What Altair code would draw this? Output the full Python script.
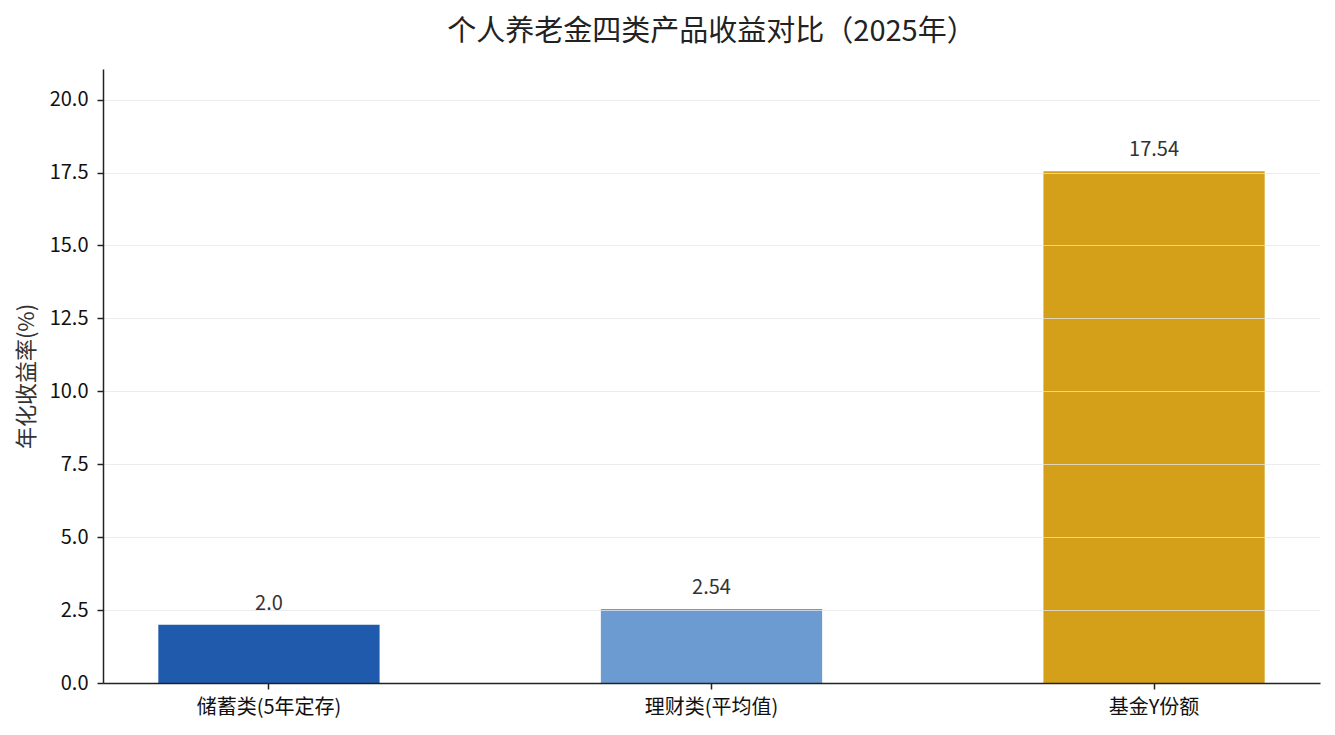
import altair as alt
import pandas as pd

categories = ["储蓄类(5年定存)", "理财类(平均值)", "基金Y份额"]
values = [2.0, 2.54, 17.54]
labels = ["2.0", "2.54", "17.54"]
colors = ["#1f5aad", "#6c9bd2", "#d4a01a"]

df = pd.DataFrame({"cat": categories, "val": values, "lab": labels, "col": colors})
FONT = "Noto Sans CJK SC"

x = alt.X("cat:N", sort=categories, title=None,
          scale=alt.Scale(paddingInner=0.5, paddingOuter=0.125),
          axis=alt.Axis(labelAngle=0, labelFontSize=20, labelColor="#111", labelFont=FONT,
                        domainColor="#222", domainWidth=1.5, tickColor="#222", tickWidth=1.5,
                        tickSize=6, labelPadding=8, zindex=2))

bars = alt.Chart(df).mark_bar().encode(
    x=x,
    y=alt.Y("val:Q", title="年化收益率(%)",
            scale=alt.Scale(domain=[0, 21.048], nice=False, zero=True),
            axis=alt.Axis(values=[0, 2.5, 5, 7.5, 10, 12.5, 15, 17.5, 20], format=".1f",
                          labelFontSize=20, labelColor="#111", labelFont=FONT,
                          titleFontSize=22, titleColor="#333", titleFont=FONT, titleFontWeight="normal",
                          titlePadding=11,
                          grid=True, gridColor="#e6e6e6", gridOpacity=0.75, gridWidth=1,
                          domainColor="#222", domainWidth=1.5, tickColor="#222", tickWidth=1.5,
                          tickSize=6, labelPadding=9, zindex=1)),
    color=alt.Color("col:N", scale=None),
)

text = alt.Chart(df).mark_text(fontSize=20, color="#333", font=FONT, baseline="middle", dy=-21).encode(
    x=alt.X("cat:N", sort=categories),
    y=alt.Y("val:Q"),
    text="lab:N",
)

chart = (bars + text).properties(
    width=1217, height=614,
    padding={"left": 95, "top": 61, "right": 7, "bottom": 44},
    autosize=alt.AutoSizeParams(type="none"),
    title=alt.TitleParams("个人养老金四类产品收益对比（2025年）", fontSize=29, font=FONT,
                          fontWeight="normal", color="#222", anchor="middle", offset=22),
).configure_view(stroke=None).configure_axisX(grid=False)

chart.save("out.html", embed_options={"renderer": "svg", "actions": False})
